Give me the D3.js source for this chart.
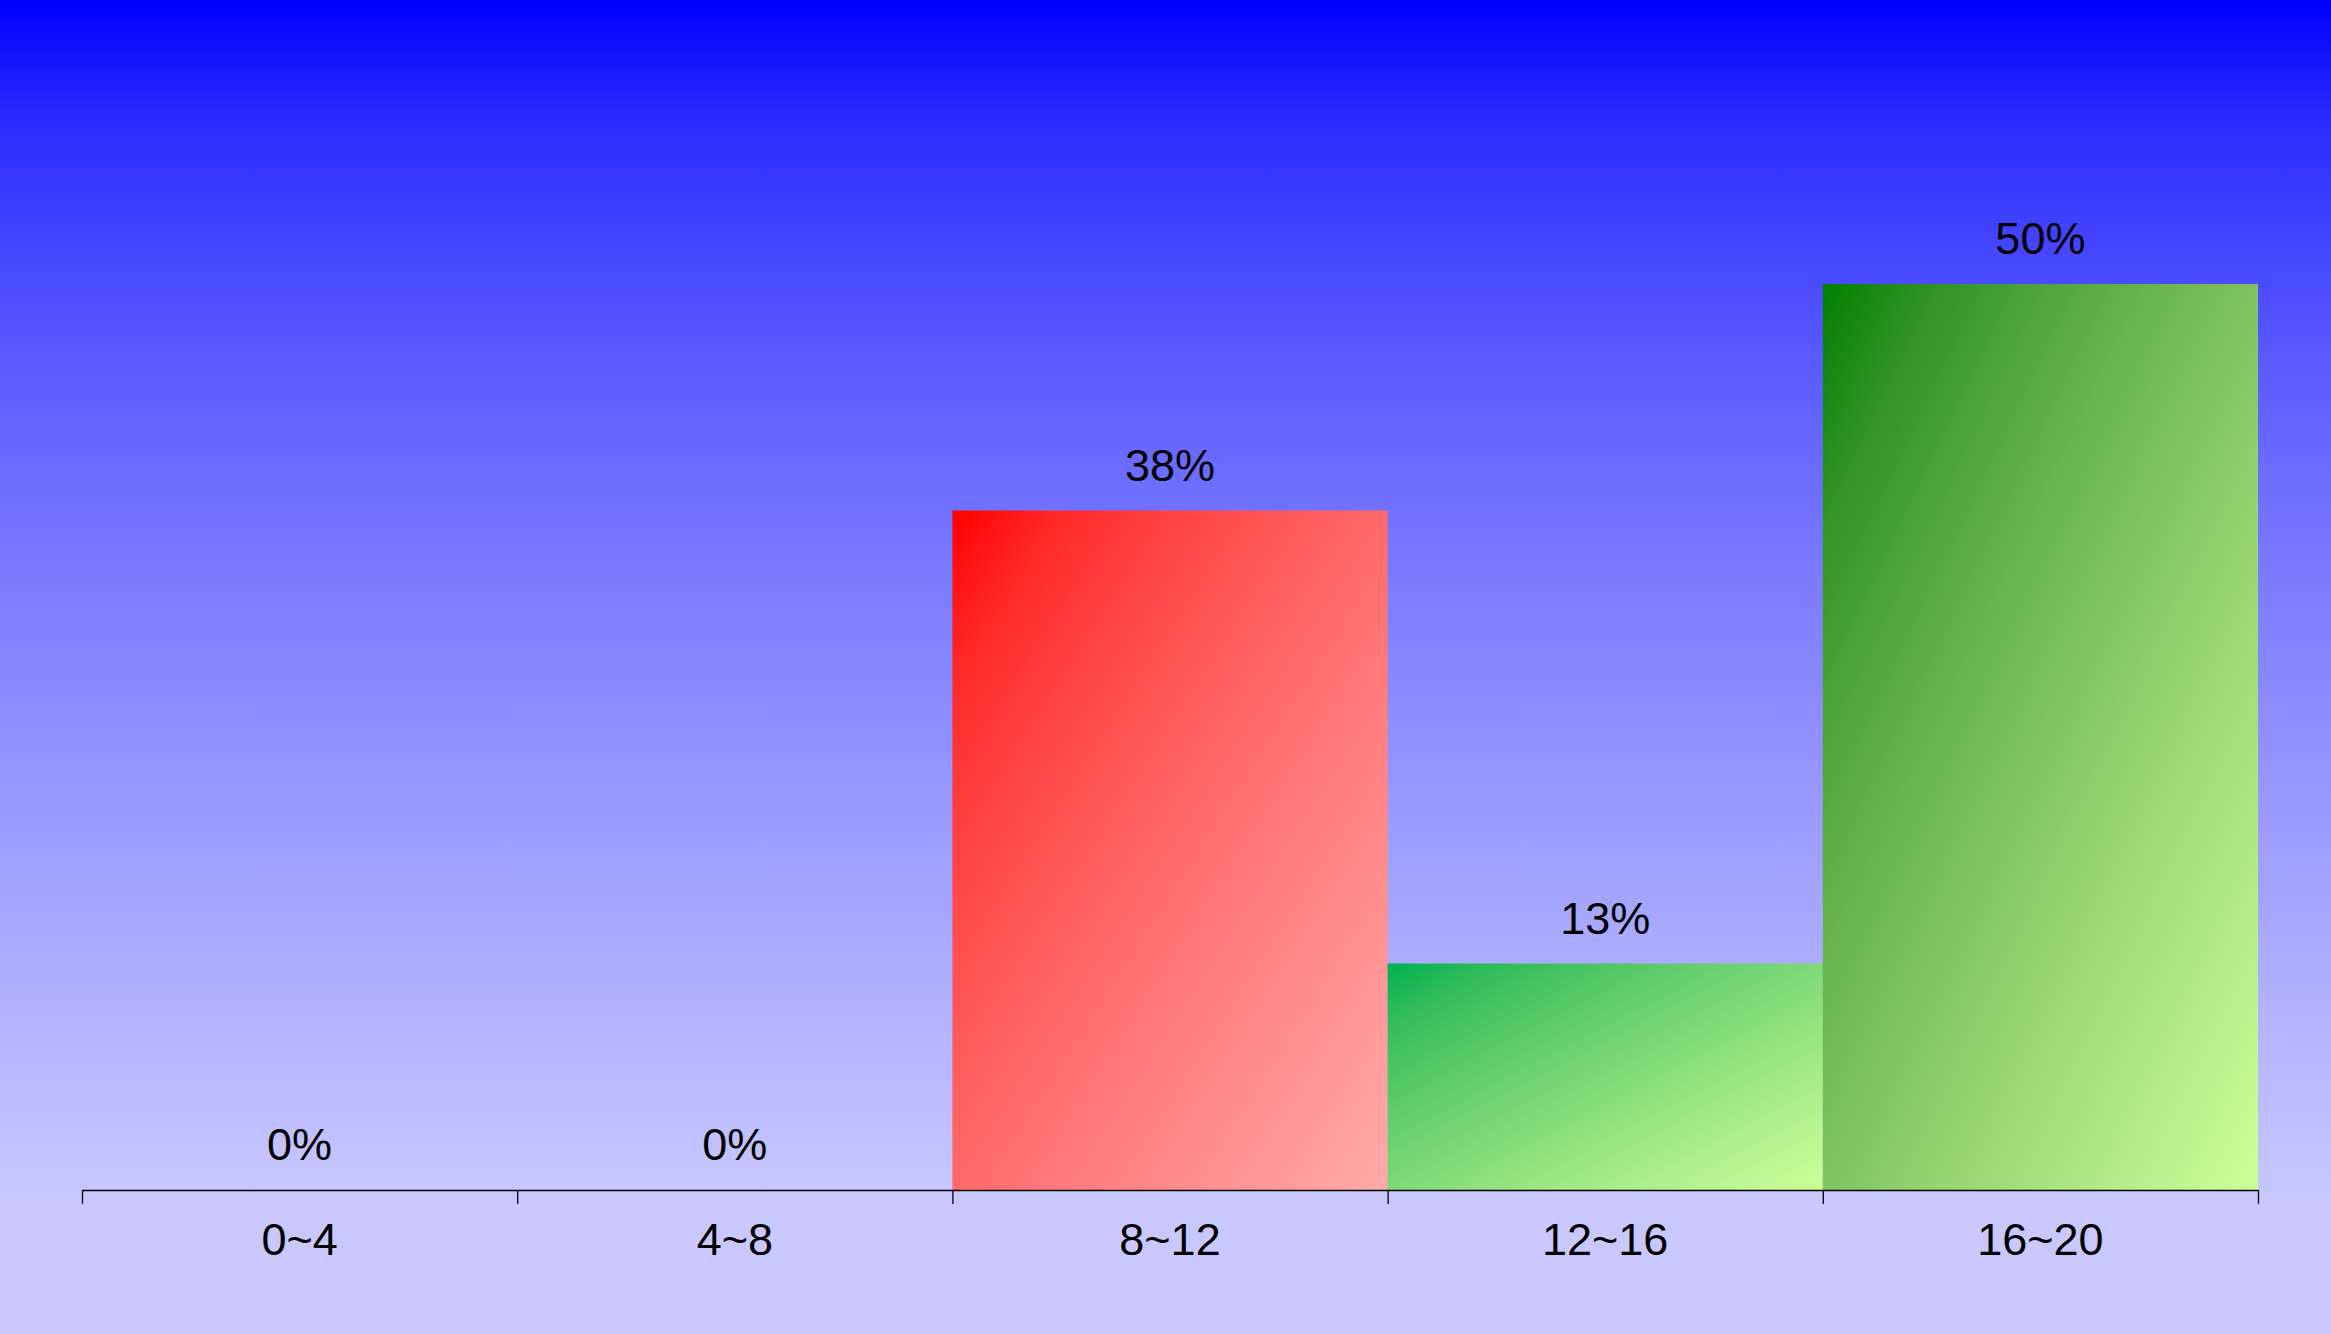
<!DOCTYPE html>
<html>
<head>
<meta charset="utf-8">
<script src="https://cdn.jsdelivr.net/npm/d3@7"></script>
<style>
  body { margin: 0; overflow: hidden; }
  svg { display: block; }
  text { font-family: Arial, "Liberation Sans", sans-serif; fill: #000; }
</style>
</head>
<body>
<svg width="2331" height="1334"></svg>
<script>
// chart values
const categories = ["0~4", "4~8", "8~12", "12~16", "16~20"];
const shares = [0, 0, 37.5, 12.5, 50];
const barStart = ["#ff0000", "#ff0000", "#ff0000", "#00b050", "#008000"];
const barEnd = ["#ffaaaa", "#ffaaaa", "#ffaaaa", "#ccff99", "#ccff99"];

const svg = d3.select('svg');
const width = +svg.attr('width');
const height = +svg.attr('height');

const margin = { left: 82, right: 73, top: 284, bottom: 144 };
const baseY = height - margin.bottom;

const defs = svg.append('defs');

// background: blue fading to lavender, interpolated with a gamma so it brightens fast
const bgInterp = d3.interpolateRgb.gamma(1.5)("#0000ff", "#c8c8ff");
const bg = defs.append('linearGradient')
  .attr('id', 'bg')
  .attr('x1', 0).attr('y1', 0).attr('x2', 0).attr('y2', 1);
d3.range(0, 11).forEach(i => {
  bg.append('stop')
    .attr('offset', (i / 10) * 0.9)
    .attr('stop-color', bgInterp(i / 10));
});
bg.append('stop').attr('offset', 1).attr('stop-color', "#c8c8ff");

svg.append('rect')
  .attr('width', width)
  .attr('height', height)
  .attr('fill', 'url(#bg)');

// one diagonal gradient per bar
categories.forEach((c, i) => {
  const interp = d3.interpolateRgb.gamma(1.45)(barStart[i], barEnd[i]);
  const g = defs.append('linearGradient')
    .attr('id', 'bar' + i)
    .attr('x1', 0).attr('y1', 0).attr('x2', 1).attr('y2', 1);
  d3.range(0, 9).forEach(k => {
    g.append('stop')
      .attr('offset', k / 8)
      .attr('stop-color', interp(k / 8));
  });
});

const x = d3.scaleBand()
  .domain(categories)
  .range([margin.left, width - margin.right])
  .padding(0);

const y = d3.scaleLinear()
  .domain([0, 50])
  .range([baseY, margin.top]);

// bars
svg.append('g')
  .selectAll('rect')
  .data(categories)
  .join('rect')
  .attr('x', d => x(d))
  .attr('y', (d, i) => y(shares[i]))
  .attr('width', x.bandwidth())
  .attr('height', (d, i) => baseY - y(shares[i]))
  .attr('fill', (d, i) => 'url(#bar' + i + ')');

// value labels above the bars
svg.append('g')
  .selectAll('text')
  .data(categories)
  .join('text')
  .attr('x', d => x(d) + x.bandwidth() / 2)
  .attr('y', (d, i) => y(shares[i]) - 30)
  .attr('text-anchor', 'middle')
  .style('font-size', '45px')
  .text((d, i) => Math.round(shares[i]) + '%');

// axis: ticks sit on the band edges, so use a linear scale over the edges
const edges = d3.scaleLinear()
  .domain([0, categories.length])
  .range([margin.left, width - margin.right]);

const axis = svg.append('g')
  .attr('transform', `translate(0,${baseY})`)
  .call(d3.axisBottom(edges)
    .tickValues(d3.range(0, categories.length + 1))
    .tickSize(14)
    .tickSizeOuter(0)
    .tickFormat(''));
axis.select('.domain').attr('stroke', '#000').attr('stroke-width', 1.3);
axis.selectAll('.tick line').attr('stroke', '#000').attr('stroke-width', 1.3);

// category labels under the axis
svg.append('g')
  .selectAll('text')
  .data(categories)
  .join('text')
  .attr('x', d => x(d) + x.bandwidth() / 2)
  .attr('y', baseY + 65)
  .attr('text-anchor', 'middle')
  .style('font-size', '45px')
  .text(d => d);
</script>
</body>
</html>
